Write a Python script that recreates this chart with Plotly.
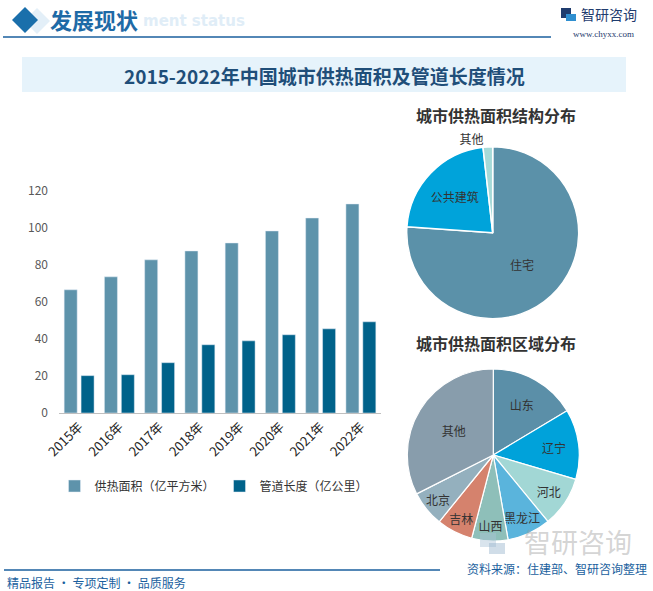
import plotly.graph_objects as go

years = ["2015年", "2016年", "2017年", "2018年", "2019年", "2020年", "2021年", "2022年"]
heat_area = [66.6, 73.6, 82.8, 87.6, 91.9, 98.4, 105.4, 113.0]
pipe_len = [20.2, 20.7, 27.2, 36.9, 39.0, 42.3, 45.5, 49.3]

struct_labels = ["住宅", "公共建筑", "其他"]
struct_values = [76.1, 22.1, 1.8]

region_labels = ["山东", "辽宁", "河北", "黑龙江", "山西", "吉林", "北京", "其他"]
region_values = [16.4, 13.2, 9.5, 8.2, 6.8, 6.8, 6.7, 32.5]

W, H = 653, 591
FONT = "Noto Sans CJK SC"


def px_x(x):
    return x / W


def px_y(y):
    return (H - y) / H


fig = go.Figure()

fig.add_trace(go.Bar(
    x=years, y=heat_area, name="供热面积（亿平方米）",
    marker=dict(color="#5E93AB"), xaxis="x", yaxis="y",
))
fig.add_trace(go.Bar(
    x=years, y=pipe_len, name="管道长度（亿公里）",
    marker=dict(color="#00628A"), xaxis="x", yaxis="y",
))

fig.add_trace(go.Pie(
    labels=struct_labels, values=struct_values, sort=False, direction="clockwise",
    rotation=0, textinfo="label", textposition=["inside", "inside", "outside"],
    insidetextorientation="horizontal",
    marker=dict(colors=["#5B91A9", "#00A3DA", "#A6DAD8"], line=dict(color="white", width=1.5)),
    textfont=dict(size=12, color="#333333", family=FONT),
    domain=dict(x=[px_x(492.7 - 86), px_x(492.7 + 86)], y=[px_y(232.7 + 86), px_y(232.7 - 86)]),
    showlegend=False, hoverinfo="label+percent", automargin=False,
))

fig.add_trace(go.Pie(
    labels=region_labels, values=region_values, sort=False, direction="clockwise",
    rotation=0, textinfo="label", textposition="inside",
    insidetextorientation="horizontal",
    marker=dict(colors=["#5B8FA8", "#00A2DA", "#A2D7D5", "#5AB4DC", "#8EBFB9",
                        "#D5826D", "#94B0BE", "#889DAC"],
                line=dict(color="white", width=1.2)),
    textfont=dict(size=12, color="#333333", family=FONT),
    domain=dict(x=[px_x(493.3 - 86), px_x(493.3 + 86)], y=[px_y(455 + 86), px_y(455 - 86)]),
    showlegend=False, hoverinfo="label+percent", automargin=False,
))

shapes = [
    # ghost diamond
    dict(type="path", path=f"M {px_x(24)} {px_y(21)} L {px_x(37)} {px_y(8)} L {px_x(50)} {px_y(21)} L {px_x(37)} {px_y(34)} Z",
         xref="paper", yref="paper", fillcolor="#E3EFF8", line=dict(width=0)),
    # header diamond
    dict(type="path", path=f"M {px_x(12)} {px_y(20)} L {px_x(25)} {px_y(7)} L {px_x(38)} {px_y(20)} L {px_x(25)} {px_y(33)} Z",
         xref="paper", yref="paper", fillcolor="#1A6FAB", line=dict(width=0)),
    # header line
    dict(type="line", xref="paper", yref="paper", x0=px_x(3), x1=px_x(551), y0=px_y(37), y1=px_y(37),
         line=dict(color="#1A5F9E", width=1.5)),
    # title box
    dict(type="rect", xref="paper", yref="paper", x0=px_x(22), x1=px_x(626), y0=px_y(92), y1=px_y(57),
         fillcolor="#E6F3FB", line=dict(width=0), layer="below"),
    # footer line
    dict(type="line", xref="paper", yref="paper", x0=px_x(4), x1=px_x(440), y0=px_y(570), y1=px_y(570),
         line=dict(color="#1A5F9E", width=1.5)),
    # logo icon blocks
    dict(type="rect", xref="paper", yref="paper", x0=px_x(561), x1=px_x(571), y0=px_y(18), y1=px_y(8),
         fillcolor="#1F3C6E", line=dict(width=0)),
    dict(type="rect", xref="paper", yref="paper", x0=px_x(566), x1=px_x(576), y0=px_y(21), y1=px_y(14),
         fillcolor="#2F8FD0", line=dict(width=0)),
    # faint watermark icon
    dict(type="rect", xref="paper", yref="paper", x0=px_x(480), x1=px_x(496), y0=px_y(547), y1=px_y(533),
         fillcolor="rgba(170,195,215,0.45)", line=dict(width=0)),
    dict(type="rect", xref="paper", yref="paper", x0=px_x(489), x1=px_x(505), y0=px_y(554), y1=px_y(543),
         fillcolor="rgba(150,180,205,0.45)", line=dict(width=0)),
]

annotations = [
    dict(text="<b>ment status</b>", x=px_x(141), y=px_y(21), xref="paper", yref="paper", xanchor="left",
         yanchor="middle", showarrow=False, font=dict(size=15, color="#E0EDF7", family="DejaVu Sans")),
    dict(text="<b>发展现状</b>", x=px_x(48), y=px_y(19), xref="paper", yref="paper", xanchor="left",
         yanchor="middle", showarrow=False, font=dict(size=22, color="#1E6AA6", family=FONT)),
    dict(text="智研咨询", x=px_x(579), y=px_y(14), xref="paper", yref="paper", xanchor="left",
         yanchor="middle", showarrow=False, font=dict(size=14, color="#1F3C6E", family=FONT)),
    dict(text="www.chyxx.com", x=px_x(636), y=px_y(34), xref="paper", yref="paper", xanchor="right",
         yanchor="middle", showarrow=False, font=dict(size=9, color="#1F3C6E", family="Liberation Serif")),
    dict(text="<b>2015-2022年中国城市供热面积及管道长度情况</b>", x=px_x(324), y=px_y(75), xref="paper",
         yref="paper", xanchor="center", yanchor="middle", showarrow=False,
         font=dict(size=19, color="#1F4E79", family=FONT)),
    dict(text="<b>城市供热面积结构分布</b>", x=px_x(414), y=px_y(115), xref="paper", yref="paper",
         xanchor="left", yanchor="middle", showarrow=False, font=dict(size=16, color="#333333", family=FONT)),
    dict(text="<b>城市供热面积区域分布</b>", x=px_x(414), y=px_y(343), xref="paper", yref="paper",
         xanchor="left", yanchor="middle", showarrow=False, font=dict(size=16, color="#333333", family=FONT)),
    dict(text="智研咨询", x=px_x(634), y=px_y(541), xref="paper", yref="paper", xanchor="right",
         yanchor="middle", showarrow=False, font=dict(size=27, color="rgba(160,160,160,0.45)", family=FONT)),
    dict(text="精品报告 · 专项定制 · 品质服务", x=px_x(5), y=px_y(582), xref="paper", yref="paper",
         xanchor="left", yanchor="middle", showarrow=False, font=dict(size=12, color="#1A5F9E", family=FONT)),
    dict(text="资料来源：住建部、智研咨询整理", x=px_x(649), y=px_y(568), xref="paper", yref="paper",
         xanchor="right", yanchor="middle", showarrow=False, font=dict(size=12, color="#1A5F9E", family=FONT)),
]

fig.update_layout(
    width=W, height=H,
    margin=dict(l=0, r=0, t=0, b=0, pad=0, autoexpand=False),
    paper_bgcolor="white", plot_bgcolor="white",
    font=dict(family=FONT, color="#333333", size=12),
    barmode="group", bargap=0.16, bargroupgap=0.23,
    uniformtext=dict(minsize=12, mode="show"),
    xaxis=dict(domain=[px_x(59), px_x(381)], anchor="y", tickangle=-45, showgrid=False,
               showline=True, linecolor="#BFBFBF", linewidth=1, ticks="", automargin=False,
               tickfont=dict(size=13, color="#262626", family=FONT)),
    yaxis=dict(domain=[px_y(413), px_y(191)], anchor="x", range=[0, 120], dtick=20,
               showgrid=False, showline=False, zeroline=False, ticks="", automargin=False,
               tickfont=dict(size=12, color="#595959", family=FONT), ticklabelstandoff=10),
    legend=dict(orientation="h", x=px_x(214), y=px_y(486), xanchor="center", yanchor="middle",
                font=dict(size=12, color="#333333", family=FONT), bgcolor="rgba(0,0,0,0)",
                itemwidth=30, traceorder="normal"),
    shapes=shapes, annotations=annotations,
)

fig.write_html(
    "out.html",
    config={"displayModeBar": False},
    post_script="document.body.style.margin='0';document.body.style.overflow='hidden';",
)
